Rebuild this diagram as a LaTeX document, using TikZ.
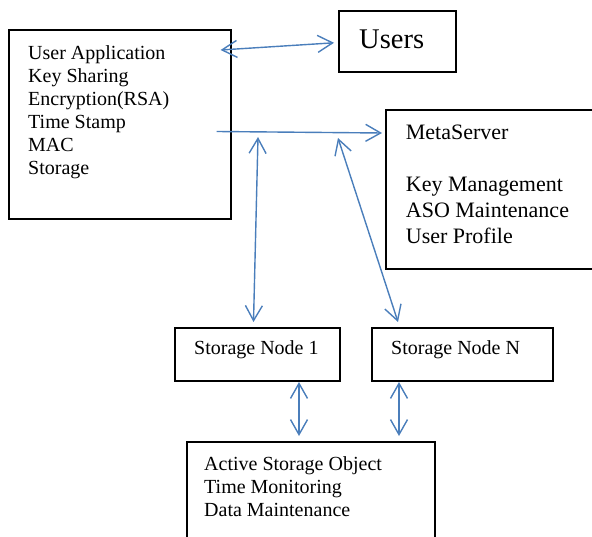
\documentclass[tikz,border=0pt]{standalone}
\usepackage{fontspec}
\setmainfont{Liberation Serif}
\usetikzlibrary{arrows.meta,calc}
\definecolor{arrowblue}{HTML}{4A7EBB}
\begin{document}
\begin{tikzpicture}[x=1pt,y=-1pt,
  box/.style={draw=black, line width=1.6pt, anchor=north west, inner sep=0pt},
  txt/.style={anchor=north west, inner sep=0pt, align=left, font=\fontsize{20}{23}\selectfont},
  linetxt/.style={anchor=base west, inner sep=0pt},
  conn/.style={draw=arrowblue, line width=1.4pt},
  dbl/.style={arrows={Straight Barb[length=15pt,width=17pt,line width=1.4pt]-Straight Barb[length=15pt,width=17pt,line width=1.4pt]}},
  sgl/.style={arrows={-Straight Barb[length=15pt,width=17pt,line width=1.4pt]}}
]
\clip (0,0) rectangle (592,537);
% boxes
\node[box, minimum width=222pt, minimum height=189pt] (ua) at (8,29) {};
\node[box, minimum width=117pt, minimum height=61pt] (users) at (338,10) {};
\node[box, minimum width=220pt, minimum height=159pt] (ms) at (385,109) {};
\node[box, minimum width=165pt, minimum height=53pt] (sn1) at (174,327) {};
\node[box, minimum width=181pt, minimum height=53pt] (snN) at (371,327) {};
\node[box, minimum width=248pt, minimum height=110pt] (aso) at (186,441) {};
% texts
\node[txt] (uatext) at (28,45.9) {User Application\\Key Sharing\\Encryption(RSA)\\Time Stamp\\MAC\\Storage};
\node[linetxt, font=\fontsize{28.5}{32}\selectfont] (userstext) at (359,49) {Users};
\node[txt, font=\fontsize{22}{26}\selectfont] (mstext) at (405.7,124.9) {MetaServer\\[26pt]Key Management\\ASO Maintenance\\User Profile};
\node[linetxt, font=\fontsize{20}{23}\selectfont] (sn1text) at (194,355) {Storage Node 1};
\node[linetxt, font=\fontsize{20}{23}\selectfont] (snNtext) at (391,355) {Storage Node N};
\node[txt] (asotext) at (204,456.3) {Active Storage Object\\Time Monitoring\\Data Maintenance};
% connector ends
\coordinate (uaUsers) at ($(ua.north east)+(-11,21)$);
\coordinate (usersIn) at ($(users.west)+(-4,1.5)$);
\coordinate (uaOut) at ($(ua.north east)+(-15,102.5)$);
\coordinate (msIn) at ($(ms.north west)+(-3,24)$);
\coordinate (top1) at (258,137);
\coordinate (sn1In) at ($(sn1.north west)+(79.5,-5)$);
\coordinate (top2) at (338,138);
\coordinate (snNIn) at ($(snN.north west)+(27,-5)$);
\coordinate (sn1Out) at ($(sn1.north west)+(125,55)$);
\coordinate (aso1In) at ($(aso.north west)+(113,-5)$);
\coordinate (snNOut) at ($(snN.north west)+(28,55)$);
\coordinate (aso2In) at ($(aso.north west)+(213,-5)$);
% connectors
\draw[conn, dbl] (uaUsers) -- (usersIn);
\draw[conn, sgl] (uaOut) -- (msIn);
\draw[conn, dbl] (top1) -- (sn1In);
\draw[conn, dbl] (top2) -- (snNIn);
\draw[conn, dbl] (sn1Out) -- (aso1In);
\draw[conn, dbl] (snNOut) -- (aso2In);
\end{tikzpicture}
\end{document}
